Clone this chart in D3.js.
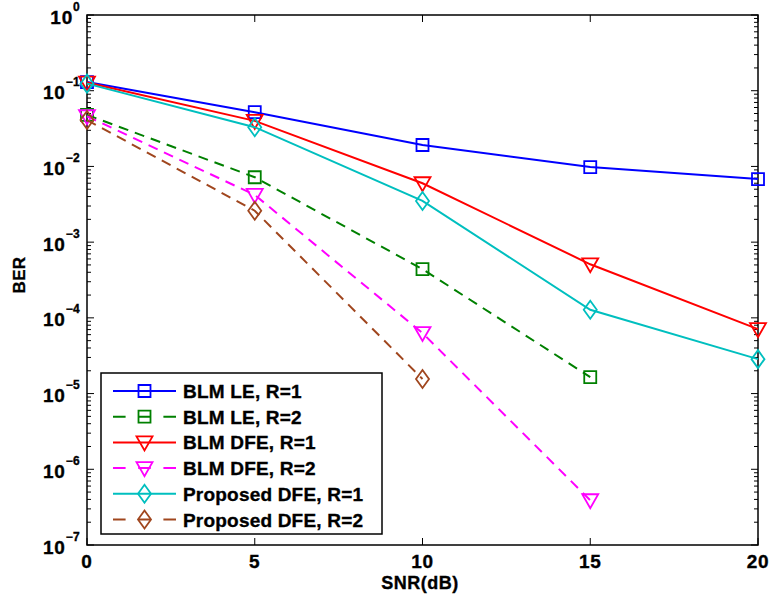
<!DOCTYPE html>
<html>
<head>
<meta charset="utf-8">
<script src="https://cdn.jsdelivr.net/npm/d3@7"></script>
<style>
  body { margin: 0; background: #fff; }
  svg { display: block; }
  svg text { font-family: "Liberation Sans", Arial, sans-serif; font-weight: bold; fill: #000; stroke: #000; stroke-width: 0.35px; }
</style>
</head>
<body>
<svg id="chart" width="772" height="606"></svg>
<script>
// SNR points (dB)
const snr = [0, 5, 10, 15, 20];

// BER curves
const blmLeR1   = [0.13, 0.052, 0.0192, 0.0098, 0.0068];
const blmLeR2   = [0.048, 0.0072, 4.4e-4, 1.65e-5];
const blmDfeR1  = [0.128, 0.040, 0.0060, 5.1e-4, 7.1e-5];
const blmDfeR2  = [0.046, 0.0042, 6.3e-5, 3.9e-7];
const propDfeR1 = [0.124, 0.033, 0.0035, 1.28e-4, 2.85e-5];
const propDfeR2 = [0.041, 0.0026, 1.56e-5];

const seriesNames = ["BLM LE, R=1", "BLM LE, R=2", "BLM DFE, R=1", "BLM DFE, R=2", "Proposed DFE, R=1", "Proposed DFE, R=2"];
const seriesValues = [blmLeR1, blmLeR2, blmDfeR1, blmDfeR2, propDfeR1, propDfeR2];
const seriesColors = ["#0000ff", "#008000", "#ff0000", "#ff00ff", "#00bfbf", "#a0461e"];
const seriesDashed = [false, true, false, true, false, true];
const seriesMarkers = ["square", "square", "triangle", "triangle", "diamond", "diamond"];

const xTicks = [0, 5, 10, 15, 20];
const yExponents = [0, -1, -2, -3, -4, -5, -6, -7];

const svg = d3.select("#chart");
const plot = { left: 87, top: 15, right: 758, bottom: 545 };

const x = d3.scaleLinear().domain([0, 20]).range([plot.left, plot.right]);
const y = d3.scaleLog().domain([1e-7, 1]).range([plot.bottom, plot.top]);

// axis box
svg.append("rect")
  .attr("x", plot.left).attr("y", plot.top)
  .attr("width", plot.right - plot.left).attr("height", plot.bottom - plot.top)
  .attr("fill", "none").attr("stroke", "#000").attr("stroke-width", 1.5);

// ticks (inward, on both sides)
const tickG = svg.append("g").attr("stroke", "#000").attr("stroke-width", 1);
xTicks.forEach(t => {
  tickG.append("line").attr("x1", x(t)).attr("x2", x(t)).attr("y1", plot.bottom).attr("y2", plot.bottom - 7);
  tickG.append("line").attr("x1", x(t)).attr("x2", x(t)).attr("y1", plot.top).attr("y2", plot.top + 7);
});
for (let e = -7; e <= 0; e++) {
  const major = Math.pow(10, e);
  tickG.append("line").attr("x1", plot.left).attr("x2", plot.left + 7).attr("y1", y(major)).attr("y2", y(major));
  tickG.append("line").attr("x1", plot.right).attr("x2", plot.right - 7).attr("y1", y(major)).attr("y2", y(major));
  if (e < 0) {
    for (let m = 2; m <= 9; m++) {
      const v = m * major;
      tickG.append("line").attr("x1", plot.left).attr("x2", plot.left + 4).attr("y1", y(v)).attr("y2", y(v));
      tickG.append("line").attr("x1", plot.right).attr("x2", plot.right - 4).attr("y1", y(v)).attr("y2", y(v));
    }
  }
}

// x tick labels
svg.append("g").selectAll("text").data(xTicks).join("text")
  .attr("x", d => x(d)).attr("y", plot.bottom + 23)
  .attr("text-anchor", "middle").attr("font-size", 19).attr("letter-spacing", 0.8)
  .text(d => d);

// y tick labels as 10^e
const yLab = svg.append("g");
yExponents.forEach(e => {
  const t = yLab.append("text")
    .attr("x", plot.left - 7).attr("y", y(Math.pow(10, e)) + 8.5)
    .attr("text-anchor", "end").attr("font-size", 19).attr("letter-spacing", 0.8);
  t.append("tspan").text("10");
  t.append("tspan").attr("dy", -13).attr("font-size", 12).attr("letter-spacing", 0.3)
    .text(e === 0 ? "0" : "\u2212" + Math.abs(e));
});

// axis titles
svg.append("text").attr("x", 420).attr("y", 589)
  .attr("text-anchor", "middle").attr("font-size", 18).attr("letter-spacing", 0.5).text("SNR(dB)");
svg.append("text").attr("transform", `translate(25,275) rotate(-90)`)
  .attr("text-anchor", "middle").attr("font-size", 17).attr("letter-spacing", 0.4).text("BER");

// marker shapes
function markerPath(kind) {
  if (kind === "square") return "M-6,-6H6V6H-6Z";
  if (kind === "triangle") return "M-8,-6H8L0,8Z";
  return "M0,-9L6.5,0L0,9L-6.5,0Z";
}

const line = d3.line().x((d, i) => x(snr[i])).y(d => y(d));

const curves = svg.append("g");
seriesValues.forEach((vals, k) => {
  const g = curves.append("g");
  g.append("path").datum(vals)
    .attr("d", line).attr("fill", "none")
    .attr("stroke", seriesColors[k]).attr("stroke-width", 2)
    .attr("stroke-dasharray", seriesDashed[k] ? "10,7" : null);
  g.selectAll("path.mk").data(vals).join("path").attr("class", "mk")
    .attr("transform", (d, i) => `translate(${x(snr[i])},${y(d)})`)
    .attr("d", markerPath(seriesMarkers[k]))
    .attr("fill", "none").attr("stroke", seriesColors[k]).attr("stroke-width", 1.8);
});

// legend
const leg = svg.append("g");
const legBox = { x: 101, y: 373, w: 281, h: 161 };
leg.append("rect").attr("x", legBox.x).attr("y", legBox.y).attr("width", legBox.w).attr("height", legBox.h)
  .attr("fill", "#fff").attr("stroke", "#000").attr("stroke-width", 1.5);
seriesNames.forEach((name, k) => {
  const cy = 391 + k * 25.7;
  leg.append("line").attr("x1", 113).attr("x2", 176).attr("y1", cy).attr("y2", cy)
    .attr("stroke", seriesColors[k]).attr("stroke-width", 2)
    .attr("stroke-dasharray", seriesDashed[k] ? "12.6,12.6" : null);
  leg.append("path").attr("transform", `translate(144.5,${cy})`)
    .attr("d", markerPath(seriesMarkers[k]))
    .attr("fill", "none").attr("stroke", seriesColors[k]).attr("stroke-width", 1.8);
  leg.append("text").attr("x", 183).attr("y", cy + 7).attr("font-size", 19).attr("letter-spacing", 0.2).text(name);
});
</script>
</body>
</html>
